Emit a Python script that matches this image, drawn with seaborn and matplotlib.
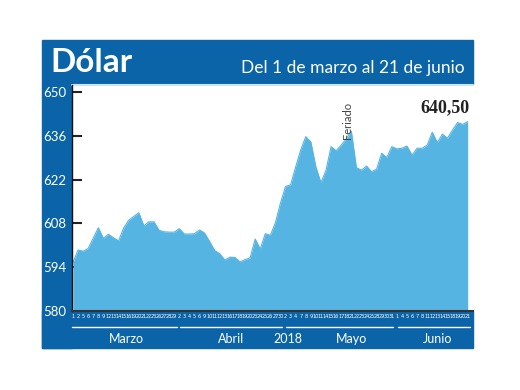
import matplotlib
matplotlib.use("Agg")
import matplotlib.pyplot as plt
from matplotlib.patches import Rectangle
import matplotlib.transforms as mtransforms
import seaborn as sns
import numpy as np

# dias habiles 1 marzo - 21 junio 2018
dias_marzo = [1, 2, 5, 6, 7, 8, 9, 12, 13, 14, 15, 16, 19, 20, 21, 22, 23, 26, 27, 28, 29]
dias_abril = [2, 3, 4, 5, 6, 9, 10, 11, 12, 13, 16, 17, 18, 19, 20, 23, 24, 25, 26, 27, 30]
dias_mayo = [2, 3, 4, 7, 8, 9, 10, 11, 14, 15, 16, 17, 18, 21, 22, 23, 24, 25, 28, 29, 30, 31]
dias_junio = [1, 4, 5, 6, 7, 8, 11, 12, 13, 14, 15, 18, 19, 20, 21]

valores_marzo = [595.5, 599.5, 599.1, 600.0, 603.3, 606.6, 603.2, 604.5, 603.4, 602.4, 606.5,
                 609.0, 610.2, 611.4, 607.2, 608.5, 608.5, 605.8, 605.3, 605.2, 605.2]
valores_abril = [606.3, 604.6, 604.6, 604.7, 605.9, 604.9, 602.2, 599.3, 598.3, 596.3, 597.2,
                 597.1, 595.7, 596.4, 597.0, 603.0, 599.8, 604.7, 604.2, 608.2, 614.5]
valores_mayo = [619.8, 620.3, 626.0, 631.5, 635.7, 634.0, 626.0, 621.0, 625.0, 632.5, 631.2,
                633.0, 635.0, 637.5, 625.8, 625.0, 626.3, 624.5, 625.3, 630.4, 629.0, 632.5]
valores_junio = [631.8, 632.0, 632.7, 629.8, 632.0, 632.0, 633.0, 637.1, 633.8, 636.5, 635.2,
                 637.8, 640.2, 639.6, 640.5]

meses = ["Marzo", "Abril", "Mayo", "Junio"]
y_ticks = [580, 594, 608, 622, 636, 650]

dias = dias_marzo + dias_abril + dias_mayo + dias_junio
valores = valores_marzo + valores_abril + valores_mayo + valores_junio
idx = np.arange(len(valores))

azul = "#0b64a8"
celeste = "#56b4e2"

sns.set_style("white")
plt.rcParams["font.family"] = ["Lato", "DejaVu Sans"]

fig = plt.figure(figsize=(5.2, 3.9), dpi=100)
W, H = 520, 390

def box(x0, y0, x1, y1, color):
    fig.patches.append(Rectangle((x0 / W, 1 - y1 / H), (x1 - x0) / W, (y1 - y0) / H,
                                 transform=fig.transFigure, color=color, zorder=-5))

box(42, 40, 473, 84, azul)
box(42, 84, 72, 348, azul)
box(42, 311, 473, 348, azul)

ax = fig.add_axes([72 / W, 1 - 311 / H, (473 - 72) / W, (311 - 85) / H])
ax.set_facecolor("white")

sns.lineplot(x=idx, y=valores, ax=ax, color=celeste, lw=0.8)
ax.fill_between(idx, 580, valores, color=celeste, lw=0)

ax.set_xlim(-0.2, 79.05)
ax.set_ylim(580, 652.2)
ax.set_yticks(y_ticks)
ax.set_yticklabels([str(v) for v in y_ticks], color="white", fontsize=9.5)
ax.tick_params(axis="y", direction="in", length=7, width=1.5, color="#222222", pad=4, left=True)
ax.set_xticks(idx)
ax.set_xticklabels([str(d) for d in dias], color="white", fontsize=3.6,
                   family=["Liberation Sans Narrow", "DejaVu Sans"])
ax.tick_params(axis="x", length=0, pad=2.5)

for s in ["top", "right"]:
    ax.spines[s].set_visible(False)
ax.spines["left"].set_color("#111111")
ax.spines["left"].set_linewidth(1.0)
ax.spines["bottom"].set_color("#333333")
ax.spines["bottom"].set_linewidth(1.5)
ax.axhline(652.2, color="#cde6f5", lw=1.5, clip_on=False)

# separadores y meses
trans = mtransforms.blended_transform_factory(ax.transData, fig.transFigure)
tramos = [(-0.2, 20.5), (21.1, 41.3), (42.1, 63.2), (64.2, 78.5)]
centros = [10.6, 31.2, 55.0, 72.0]
for (a, b), c, m in zip(tramos, centros, meses):
    ax.plot([a, b], [1 - 327 / H] * 2, color="white", lw=1, transform=trans, clip_on=False)
    ax.text(c, 1 - 339 / H, m, color="white", fontsize=9, ha="center", va="center",
            transform=trans)
ax.text(42.5, 1 - 339 / H, "2018", color="white", fontsize=9, ha="center", va="center",
        transform=trans)

ax.text(54.3, 641, "Feriado", rotation=90, fontsize=8, color="#444444",
        ha="center", va="center")
ax.text(78.3, 644.9, "640,50", fontsize=13, fontweight="bold", color="#222222",
        ha="right", va="center", family=["Liberation Serif", "DejaVu Serif"])

fig.text(50 / W, 1 - 62 / H, "Dólar", color="white", fontsize=24, fontweight="bold",
         ha="left", va="center")
fig.text(465 / W, 1 - 68 / H, "Del 1 de marzo al 21 de junio", color="white", fontsize=12.5,
         ha="right", va="center")

fig.savefig("out.png", dpi=100, facecolor="white")
